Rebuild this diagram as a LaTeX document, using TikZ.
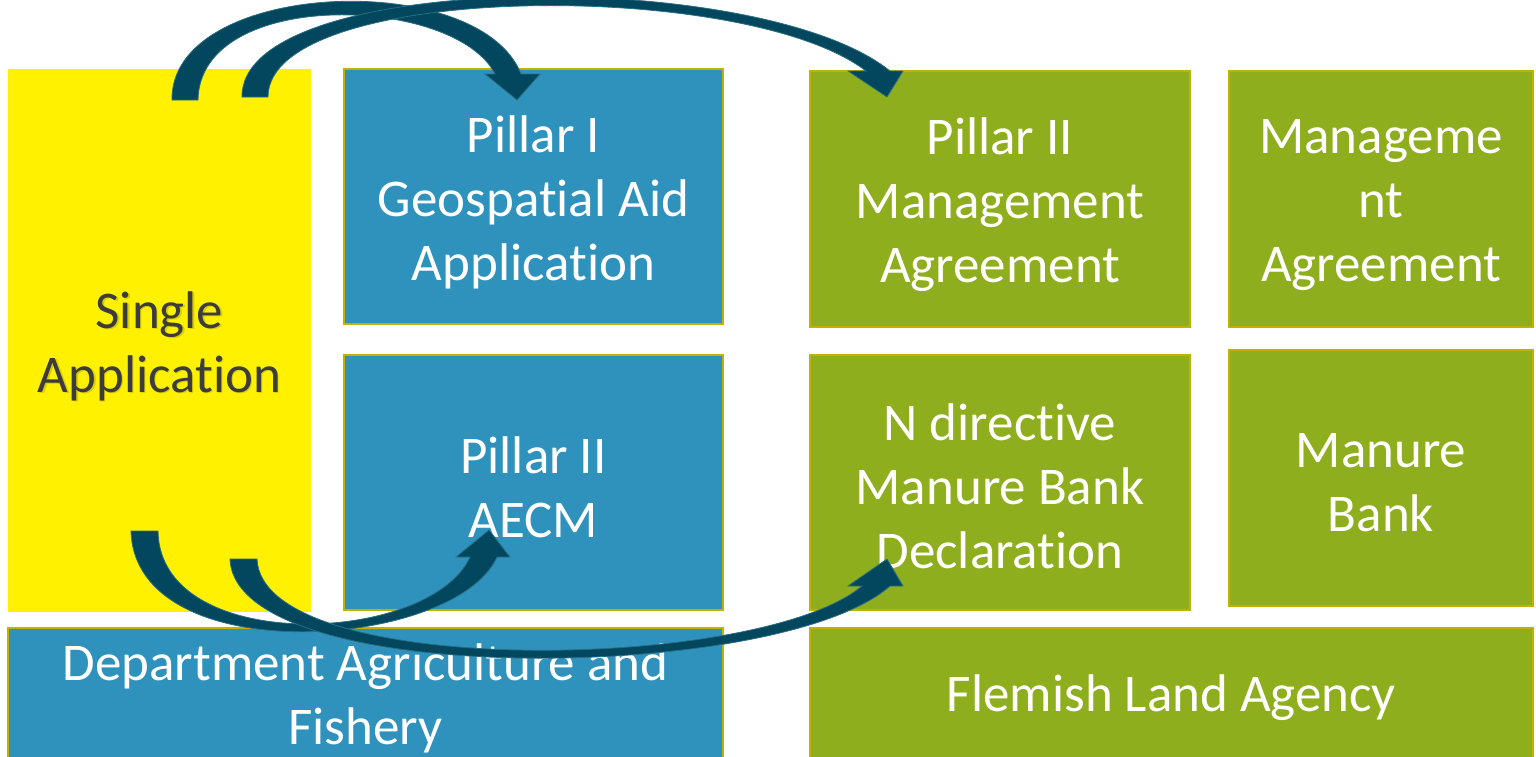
\documentclass[tikz,border=0pt]{standalone}
\usepackage{fontspec}
\setmainfont{Carlito}[Ligatures=NoCommon]
\definecolor{pblue}{HTML}{2E92BD}
\definecolor{pgreen}{HTML}{8FAE1D}
\definecolor{pyellow}{HTML}{FFF100}
\definecolor{pborder}{HTML}{BFB200}
\definecolor{parrow}{HTML}{02475E}
\definecolor{pedge}{HTML}{2A6E84}
\definecolor{ptext}{HTML}{3C3C3C}
\begin{document}
\begin{tikzpicture}[x=1pt,y=-1pt,
  txt/.style={align=center, font=\fontsize{53}{64}\selectfont, inner sep=0pt},
  wtxt/.style={txt, text=white},
  box/.style={rectangle, draw=pborder, line width=2pt, inner sep=0pt},
  bluebox/.style={box, fill=pblue},
  greenbox/.style={box, fill=pgreen},
  bigarrow/.style={fill=parrow, draw=pedge, line width=0.8pt, line join=miter}]
\useasboundingbox (0,0) rectangle (1536,756);
\clip (0,0) rectangle (1536,756);

% yellow box
\node[fill=pyellow, minimum width=303pt, minimum height=543pt, inner sep=0pt] (single) at (159.5,340.5) {};
\node[txt, text=black, opacity=0.14] (singleshadow) at ([xshift=1.5pt,yshift=-7pt]single.center) {Single\\Application};
\node[txt, text=ptext] (singletext) at ([yshift=-5.5pt]single.center) {Single\\Application};

% blue boxes
\node[bluebox, minimum width=379pt, minimum height=255pt] (p1) at (533.5,196.5) {};
\node[wtxt] (p1t) at ([yshift=-6pt]p1.center) {Pillar I\\Geospatial Aid\\Application};
\node[bluebox, minimum width=379pt, minimum height=255pt] (p2) at (533.5,482.5) {};
\node[wtxt] (p2t) at ([yshift=-5pt]p2.center) {Pillar II\\AECM};
\node[bluebox, minimum width=715pt, minimum height=134pt] (dept) at (365.5,695) {};
\node[wtxt] (deptt) at ([yshift=-3pt]dept.center) {Department Agriculture and\\Fishery};

% green boxes
\node[greenbox, minimum width=380pt, minimum height=256pt] (p2ma) at (1000,199) {};
\node[wtxt] (p2mat) at ([yshift=-6pt]p2ma.center) {Pillar II\\Management\\Agreement};
\node[greenbox, minimum width=304pt, minimum height=256pt] (ma) at (1381,199) {};
\node[wtxt] (mat) at ([yshift=-6pt]ma.center) {Manageme\\nt\\Agreement};
\node[greenbox, minimum width=380pt, minimum height=255pt] (nd) at (1000,482.5) {};
\node[wtxt] (ndt) at ([yshift=-4pt]nd.center) {N directive\\Manure Bank\\Declaration};
\node[greenbox, minimum width=304pt, minimum height=256pt] (mb) at (1381,478) {};
\node[wtxt] (mbt) at ([yshift=-5pt]mb.center) {Manure\\Bank};
\node[greenbox, minimum width=723pt, minimum height=134pt] (vla) at (1171.5,695) {};
\node[wtxt] (vlat) at ([yshift=-3pt]vla.center) {Flemish Land Agency};

% arrow tips
\coordinate (t1) at (517,100);
\coordinate (t2) at (887,97);
\coordinate (t3) at (489,530);
\coordinate (t4) at (887,559);

% top arrows
\draw[bigarrow] (172,100) .. controls (170,-20) and (479,-33) .. (521,74) -- (540,74) -- (t1) -- (485,74) -- (495,74) .. controls (455,-5) and (200,-13) .. (198,100) -- cycle;
\draw[bigarrow] (242,97) .. controls (240,-30) and (760,-34) .. (890,71) -- (903,71) -- (t2) -- (848,71) -- (866,71) .. controls (745,-22) and (268,-18) .. (268,97) -- cycle;

% bottom arrows
\draw[bigarrow] (131,531) .. controls (135,672) and (455,650) .. (497,557) -- (510,557) -- (t3) -- (456,557) -- (470,557) .. controls (430,645) and (160,656) .. (158,531) -- cycle;
\draw[bigarrow] (230,559) .. controls (235,690) and (780,683) .. (890,586) -- (903,586) -- (t4) -- (848,586) -- (862,586) .. controls (760,672) and (262,680) .. (257,559) -- cycle;
\end{tikzpicture}
\end{document}
